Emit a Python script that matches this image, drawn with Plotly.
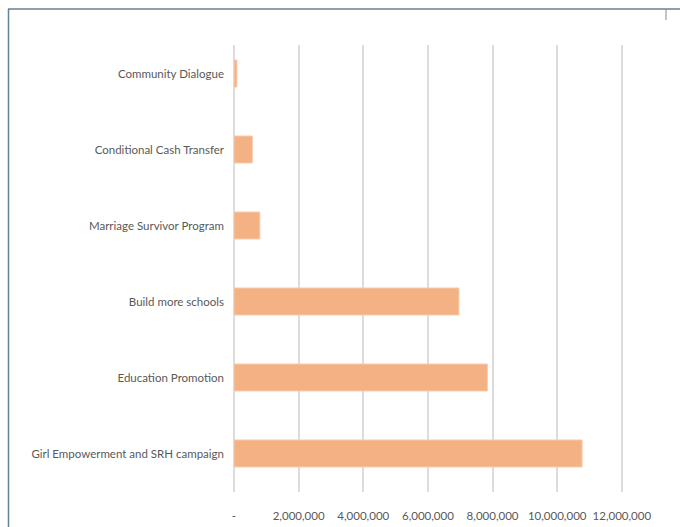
import plotly.graph_objects as go

categories = [
    "Community Dialogue",
    "Conditional Cash Transfer",
    "Marriage Survivor Program",
    "Build more schools",
    "Education Promotion",
    "Girl Empowerment and SRH campaign",
]
values = [90000, 570000, 800000, 6960000, 7840000, 10770000]
tick_vals = [0, 2000000, 4000000, 6000000, 8000000, 10000000, 12000000]
tick_text = ["-", "2,000,000", "4,000,000", "6,000,000", "8,000,000", "10,000,000", "12,000,000"]

W, H = 680, 527
L, R, T, B = 234, 42, 45, 35
pw, ph = W - L - R, H - T - B

def px_x(x):
    return (x - L) / pw

def px_y(y):
    return 1 - (y - T) / ph

fig = go.Figure(go.Bar(
    x=values, y=categories, orientation="h",
    marker=dict(color="#F4B183", line=dict(color="#F8CBAD", width=1)),
    width=0.355,
))

frame = "#62829a"
shapes = [
    dict(type="line", xref="paper", yref="paper", x0=px_x(8), x1=px_x(680), y0=px_y(9), y1=px_y(9),
         line=dict(color=frame, width=1.5)),
    dict(type="line", xref="paper", yref="paper", x0=px_x(8.5), x1=px_x(8.5), y0=px_y(9), y1=px_y(527),
         line=dict(color=frame, width=1.5)),
    dict(type="line", xref="paper", yref="paper", x0=px_x(666), x1=px_x(666), y0=px_y(9), y1=px_y(20),
         line=dict(color="#8a8a8a", width=1)),
]

fnt = "Lato"

fig.update_layout(
    width=W, height=H,
    margin=dict(l=L, r=R, t=T, b=B),
    paper_bgcolor="white", plot_bgcolor="white",
    showlegend=False,
    shapes=shapes,
    font=dict(family=fnt, color="#595959"),
    xaxis=dict(
        range=[0, 12500000],
        tickvals=tick_vals, ticktext=tick_text,
        showgrid=True, gridcolor="#dcdcdc", gridwidth=1.5,
        zeroline=True, zerolinecolor="#dcdcdc", zerolinewidth=1.5,
        showline=False, ticks="",
        tickangle=0, automargin=False,
        tickfont=dict(size=11.5, color="#595959", family=fnt),
        ticklabelstandoff=15,
    ),
    yaxis=dict(
        categoryorder="array", categoryarray=categories,
        range=[5.507, -0.375],
        showgrid=False, zeroline=False, showline=False, ticks="",
        automargin=False,
        tickfont=dict(size=11.5, color="#595959", family=fnt),
        ticklabelstandoff=9,
    ),
)

fig.write_html("out.html")
